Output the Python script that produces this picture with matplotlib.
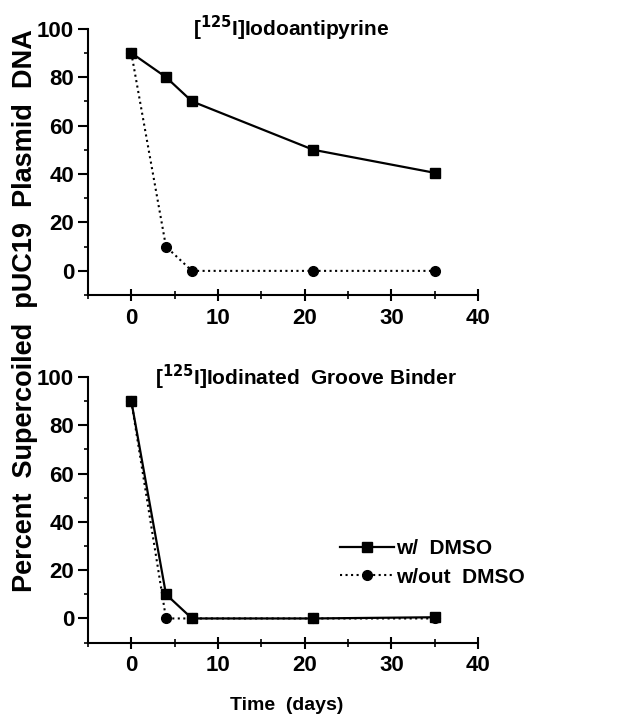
import numpy as np
import matplotlib.pyplot as plt

plt.rcParams['font.family'] = ['Liberation Sans', 'DejaVu Sans']
plt.rcParams['font.weight'] = 'bold'
plt.rcParams['mathtext.default'] = 'bf'

# data
days = [0, 4, 7, 21, 35]
top_dmso = [90, 80, 70, 50, 40.5]
top_nodmso = [90, 10, 0, 0, 0]
bot_dmso = [90, 10, 0, 0, 0.5]
bot_nodmso = [90, 0, 0, 0, 0]
titles = ['[$^{125}$I]Iodoantipyrine', '[$^{125}$I]Iodinated  Groove Binder']
title_x = [0.52, 0.56]

fig = plt.figure(figsize=(6.24, 7.18), dpi=100)
ax1 = fig.add_axes([0.141, 0.589, 0.625, 0.371])
ax2 = fig.add_axes([0.141, 0.105, 0.625, 0.370])


def style(ax):
    ax.set_xlim(-5, 40)
    ax.set_ylim(-10, 100)
    ax.set_xticks([0, 10, 20, 30, 40])
    ax.set_xticks([-5, 5, 15, 25, 35], minor=True)
    ax.set_yticks([0, 20, 40, 60, 80, 100])
    ax.set_yticks([-10, 10, 30, 50, 70, 90], minor=True)
    ax.spines['top'].set_visible(False)
    ax.spines['right'].set_visible(False)
    for s in ['left', 'bottom']:
        ax.spines[s].set_linewidth(1.5)
    ax.tick_params(axis='y', which='major', direction='out', length=7, width=1.5,
                   labelsize=16, pad=3)
    ax.tick_params(axis='y', which='minor', direction='out', length=3, width=1.2)
    ax.tick_params(axis='x', which='major', direction='inout', length=8, width=1.5,
                   labelsize=16, pad=5)
    ax.tick_params(axis='x', which='minor', direction='inout', length=6, width=1.2)


for ax, a, b, t, tx in [(ax1, top_dmso, top_nodmso, titles[0], title_x[0]),
                        (ax2, bot_dmso, bot_nodmso, titles[1], title_x[1])]:
    style(ax)
    ax.plot(days, b, ls=':', color='black', lw=1.5, marker='o', ms=7,
            label='w/out  DMSO')
    ax.plot(days, a, ls='-', color='black', lw=1.6, marker='s', ms=7,
            label='w/  DMSO')
    ax.text(tx, 1.0, t, transform=ax.transAxes, ha='center', va='center',
            fontsize=15)

h, l = ax2.get_legend_handles_labels()
ax2.legend(h[::-1], l[::-1], loc='center left', bbox_to_anchor=(0.598, 0.30),
           frameon=False, fontsize=15, handlelength=2.6, handletextpad=0.1,
           labelspacing=0.45)

fig.text(0.04, 0.568, 'Percent  Supercoiled  pUC19  Plasmid  DNA', rotation=90,
         ha='center', va='center', fontsize=19.5)
fig.text(0.46, 0.018, 'Time  (days)', ha='center', va='center', fontsize=14)

plt.savefig('out.png', dpi=100)
